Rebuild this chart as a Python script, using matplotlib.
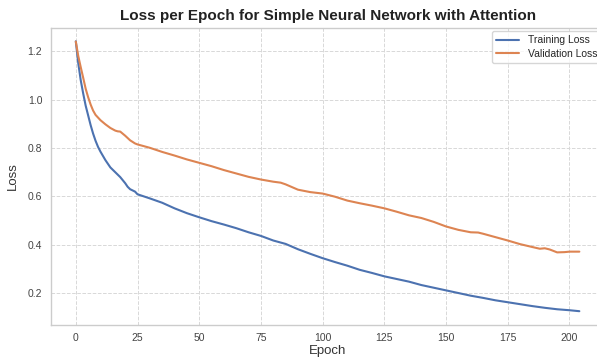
import matplotlib
matplotlib.use("Agg")
import matplotlib.pyplot as plt
import seaborn as sns

# values
train_epochs = [0, 1, 2, 3, 4, 5, 6, 7, 8, 9, 10, 12, 14, 16, 18, 20, 21, 22, 24, 25,
                30, 35, 40, 45, 50, 55, 60, 65, 70, 75, 80, 85, 90, 95, 100,
                105, 110, 115, 120, 125, 130, 135, 140, 145, 150, 155, 160, 165,
                170, 175, 180, 185, 190, 195, 200, 204]
train_loss = [1.241, 1.15, 1.08, 1.025, 0.975, 0.935, 0.895, 0.86, 0.83, 0.805, 0.785,
              0.75, 0.72, 0.70, 0.68, 0.655, 0.64, 0.63, 0.62, 0.609,
              0.592, 0.574, 0.551, 0.531, 0.514, 0.498, 0.484, 0.469, 0.452, 0.437,
              0.418, 0.404, 0.382, 0.363, 0.345, 0.329, 0.314, 0.297, 0.284, 0.270,
              0.259, 0.248, 0.234, 0.223, 0.212, 0.201, 0.190, 0.181, 0.171, 0.163,
              0.155, 0.147, 0.140, 0.134, 0.130, 0.126]

val_epochs = [0, 1, 2, 3, 4, 5, 6, 7, 8, 9, 10, 12, 14, 16, 17, 18, 20, 22, 24, 25,
              30, 35, 40, 45, 50, 55, 60, 65, 70, 75, 80, 83, 85, 90, 95, 100,
              105, 110, 115, 120, 125, 130, 135, 140, 145, 150, 155, 160, 163, 165,
              170, 175, 180, 185, 188, 190, 192, 195, 198, 200, 204]
val_loss = [1.24, 1.18, 1.134, 1.09, 1.045, 1.01, 0.98, 0.955, 0.937, 0.926, 0.915,
            0.898, 0.883, 0.872, 0.869, 0.868, 0.851, 0.832, 0.819, 0.815,
            0.801, 0.784, 0.769, 0.753, 0.739, 0.725, 0.709, 0.695, 0.681, 0.670,
            0.661, 0.657, 0.650, 0.628, 0.618, 0.612, 0.599, 0.583, 0.572, 0.562,
            0.551, 0.537, 0.522, 0.511, 0.495, 0.476, 0.462, 0.452, 0.451, 0.446,
            0.432, 0.418, 0.403, 0.391, 0.384, 0.386, 0.381, 0.369, 0.370, 0.372, 0.372]

sns.set_theme(style="whitegrid")
plt.rcParams['font.family'] = ['Liberation Sans', 'DejaVu Sans']

fig = plt.figure(figsize=(5.97, 3.58), dpi=100)
ax = fig.add_axes([0.0848, 0.0922, 0.9278, 0.8296])

ax.plot(train_epochs, train_loss, color='#4C72B0', lw=1.5, label='Training Loss')
ax.plot(val_epochs, val_loss, color='#DD8452', lw=1.5, label='Validation Loss')

ax.set_xlim(-10.2, 214.2)
ax.set_ylim(0.069, 1.296)
ax.set_xticks([0, 25, 50, 75, 100, 125, 150, 175, 200])
ax.set_yticks([0.2, 0.4, 0.6, 0.8, 1.0, 1.2])
ax.tick_params(labelsize=7.5, colors='#444444', length=0, pad=6)

ax.grid(True, linestyle='--', color='#d8d8d8', linewidth=0.7)
for s in ax.spines.values():
    s.set_color('#cccccc')
    s.set_linewidth(1.0)

ax.set_title('Loss per Epoch for Simple Neural Network with Attention',
             fontsize=11, fontweight='bold', color='#222222', pad=6)
ax.set_xlabel('Epoch', fontsize=9.5, color='#333333', labelpad=1)
ax.set_ylabel('Loss', fontsize=9.5, color='#333333', labelpad=6)

leg = ax.legend(loc='upper right', fontsize=7.5, frameon=True, borderaxespad=0.3,
                handlelength=2.2, labelspacing=0.35)
leg.get_frame().set_edgecolor('#cccccc')

fig.savefig('out.png', dpi=100)
